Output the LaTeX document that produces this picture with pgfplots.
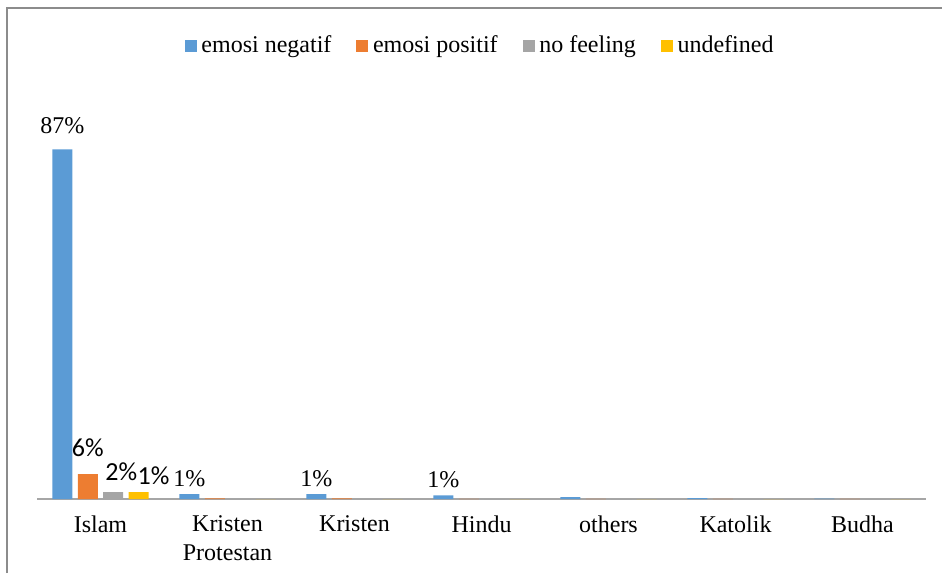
\documentclass[border=0pt]{standalone}
\usepackage{fontspec}
\setmainfont{Liberation Serif}
\newfontfamily\calibri{Carlito}
\usepackage{pgfplots}
\pgfplotsset{compat=1.18}

\definecolor{cneg}{HTML}{5B9BD5}
\definecolor{cpos}{HTML}{ED7D31}
\definecolor{cnof}{HTML}{A5A5A5}
\definecolor{cund}{HTML}{FFC000}
\definecolor{axgray}{HTML}{A6A6A6}
\definecolor{framegray}{HTML}{8C8C8C}

\begin{document}
\begin{tikzpicture}
% page = 942x573 px at 0.5pt per px, origin at the lower left of the plot area
\useasboundingbox (-18.5pt,-37pt) rectangle (452.5pt,249.5pt);
\draw[framegray,line width=0.8pt] (-15pt,-37pt) -- (-15pt,245.5pt) -- (452.5pt,245.5pt);
\begin{axis}[
    scale only axis,
    width=444.5pt, height=201pt,
    ybar, bar width=0.157,
    xmin=-0.5, xmax=6.5,
    ymin=0, ymax=100,
    hide y axis,
    axis x line=bottom,
    axis line style={-,axgray,line width=0.8pt},
    xtick={0,...,6},
    xticklabels={Islam,Kristen\\Protestan,Kristen,Hindu,others,Katolik,Budha},
    x tick label style={align=center,font=\fontsize{12}{14.5}\selectfont,yshift=-5pt},
    major tick length=0pt,
    point meta=explicit symbolic,
    nodes near coords,
    every node near coord/.append style={font=\fontsize{12}{14}\selectfont,text=black},
    legend columns=4,
    legend style={draw=none,fill=none,at={(0.5,1.127)},anchor=center,
        font=\fontsize{12}{14}\selectfont,
        nodes={inner xsep=2.4pt,inner ysep=1pt},
        /tikz/every even column/.append style={column sep=10pt}},
    legend image code/.code={\fill[#1] (0pt,-3pt) rectangle (6pt,3pt);},
]
\addplot[fill=cneg,draw=none,bar shift=-0.3] coordinates {
    (0,87) [\raisebox{4.5pt}{87\%}] (1,1.2) [1\%] (2,1.2) [1\%] (3,0.9) [1\%]
    (4,0.45) [] (5,0.2) [] (6,0.1) []};
\addlegendentry{emosi negatif}
\addplot[fill=cpos,draw=none,bar shift=-0.1,
    every node near coord/.append style={font=\calibri\fontsize{13}{15}\selectfont,yshift=5pt}] coordinates {
    (0,6.2) [6\%] (1,0.15) [] (2,0.15) [] (3,0.05) []
    (4,0.05) [] (5,0.02) [] (6,0.05) []};
\addlegendentry{emosi positif}
\addplot[fill=cnof,draw=none,bar shift=0.1,
    every node near coord/.append style={font=\calibri\fontsize{13}{15}\selectfont,xshift=4pt,yshift=2pt}] coordinates {
    (0,1.7) [2\%] (1,0) [] (2,0) [] (3,0) []
    (4,0) [] (5,0) [] (6,0) []};
\addlegendentry{no feeling}
\addplot[fill=cund,draw=none,bar shift=0.3,
    every node near coord/.append style={font=\calibri\fontsize{13}{15}\selectfont,xshift=7.5pt}] coordinates {
    (0,1.7) [1\%] (1,0) [] (2,0) [] (3,0) []
    (4,0) [] (5,0) [] (6,0) []};
\addlegendentry{undefined}
\end{axis}
\end{tikzpicture}
\end{document}
